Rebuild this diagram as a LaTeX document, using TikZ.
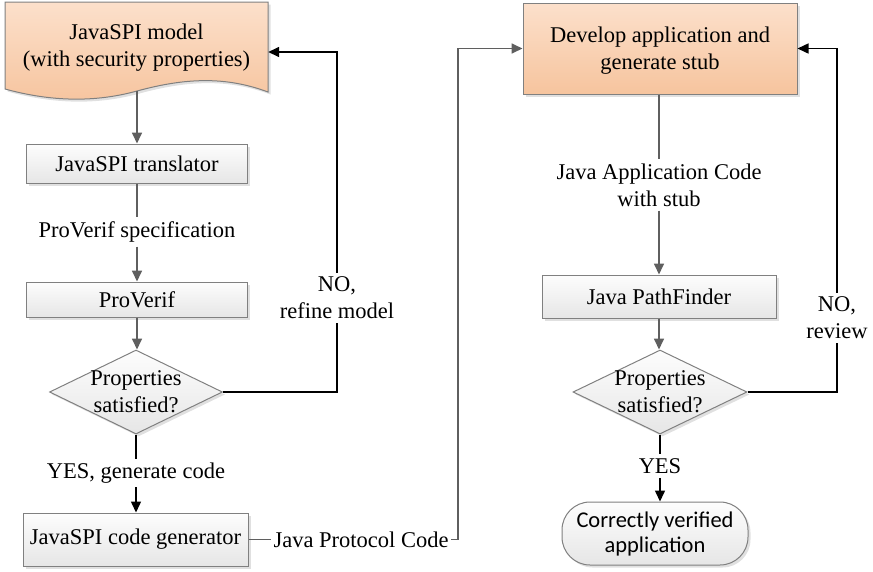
\documentclass[tikz,border=0pt]{standalone}
\usepackage{fontspec}
\setmainfont{Liberation Serif}
\newfontfamily\calibfont{Carlito}
\usetikzlibrary{shapes.geometric,arrows.meta,shadows}
\definecolor{peachT}{RGB}{252,224,203}
\definecolor{peachB}{RGB}{246,196,158}
\definecolor{grayT}{RGB}{253,253,253}
\definecolor{grayB}{RGB}{230,230,230}
\definecolor{edgec}{RGB}{128,128,128}
\definecolor{connc}{RGB}{95,95,95}
\tikzset{
  base/.style={font=\fontsize{22.5}{27}\selectfont, align=center, inner sep=0pt},
  shad/.style={drop shadow={shadow xshift=2.5pt, shadow yshift=-2.5pt, fill=black!12, opacity=1}},
  procbox/.style={base, draw=edgec, line width=1pt, top color=grayT, bottom color=grayB, shad},
  peachbox/.style={base, draw=edgec, line width=1pt, top color=peachT, bottom color=peachB, shad},
  decision/.style={diamond, draw=edgec, line width=1pt, top color=grayT, bottom color=grayB, inner sep=0pt, shad},
  lbl/.style={base, inner sep=4pt},
  gline/.style={draw=connc, line width=1.7pt},
  garrow/.style={gline, -{Triangle[length=11pt,width=10pt]}},
  bline/.style={draw=black, line width=1.5pt},
  barrow/.style={bline, -{Triangle[length=11pt,width=10pt]}},
}
\begin{document}
\begin{tikzpicture}[x=1pt,y=-1pt]
\useasboundingbox (0,0) rectangle (873,571);
% document shape
\fill[black!12, xshift=2.5pt, yshift=-2.5pt] (5,2) -- (268,2) -- (268,92) .. controls (225,76) and (185,78) .. (137,91) .. controls (90,104) and (45,100) .. (5,89) -- cycle;
\path[draw=edgec, line width=1pt, top color=peachT, bottom color=peachB] (5,2) -- (268,2) -- (268,92) .. controls (225,76) and (185,78) .. (137,91) .. controls (90,104) and (45,100) .. (5,89) -- cycle;
\node[base, minimum width=263pt, minimum height=87pt] (model) at (136.5,47.5) {JavaSPI model\\(with security properties)};

% left column
\node[procbox, minimum width=221pt, minimum height=39pt] (trans) at (137,163.5) {JavaSPI translator};
\node[lbl] (l1) at (137,232) {ProVerif specification};
\node[procbox, minimum width=221pt, minimum height=35pt] (pv) at (137,299.5) {ProVerif};
\node[decision, minimum width=173pt, minimum height=84pt] (d1) at (136,392) {};
\node[base] (d1t) at (136,392) {Properties\\satisfied?};
\node[lbl] (l2) at (136,473) {YES, generate code};
\node[procbox, minimum width=225pt, minimum height=53pt] (gen) at (135.5,539.5) {JavaSPI code generator};
\node[lbl, inner xsep=2.5pt] (l4) at (361,539.5) {Java Protocol Code};

% right column
\node[peachbox, minimum width=274pt, minimum height=91pt, text height=46pt] (dev) at (660,48.5) {Develop application and\\generate stub};
\node[lbl] (l5) at (659,185) {Java Application Code\\with stub};
\node[procbox, minimum width=234pt, minimum height=43pt] (jpf) at (659,296.5) {Java PathFinder};
\node[decision, minimum width=174pt, minimum height=84pt] (d2) at (660,392) {};
\node[base] (d2t) at (660,392) {Properties\\satisfied?};
\node[lbl] (l6) at (660,466) {YES};
\node[base, draw=edgec, line width=1pt, top color=grayT, bottom color=grayB, shad, rounded corners=28pt, minimum width=186pt, minimum height=63pt, font=\calibfont\fontsize{22.5}{25}\selectfont] (term) at (655,533.5) {Correctly verified\\application};

\coordinate (n1) at (337,52);
\coordinate (n2) at (837,48.5);
\coordinate (jc) at (458,48.5);

% connectors
\draw[garrow] (model.south -| trans.north) -- (trans.north);
\draw[gline] (trans.south) -- (trans.south |- l1.north);
\draw[garrow] (l1.south) -- (pv.north);
\draw[garrow] (pv.south) -- (pv.south |- d1.north);
\draw[bline] (d1.south) -- (l2.north);
\draw[barrow] (l2.south) -- (l2.south |- gen.north);
\draw[gline] (gen.east) -- (l4.west);
\draw[garrow] (l4.east) -| (jc) -- (dev.west);
\draw[barrow] (d1.east) -| (n1) -- (model.east |- n1);

\draw[gline] (dev.south -| l5.north) -- (l5.north);
\draw[garrow] (l5.south) -- (l5.south |- jpf.north);
\draw[garrow] (jpf.south) -- (jpf.south |- d2.north);
\draw[bline] (d2.south) -- (l6.north);
\draw[barrow] (l6.south) -- (l6.south |- term.north);
\draw[barrow] (d2.east) -| (n2) -- (dev.east);

\node[lbl, fill=white] (l3) at (337,298) {NO,\\refine model};
\node[lbl, fill=white] (l7) at (837,318) {NO,\\review};
\end{tikzpicture}
\end{document}
